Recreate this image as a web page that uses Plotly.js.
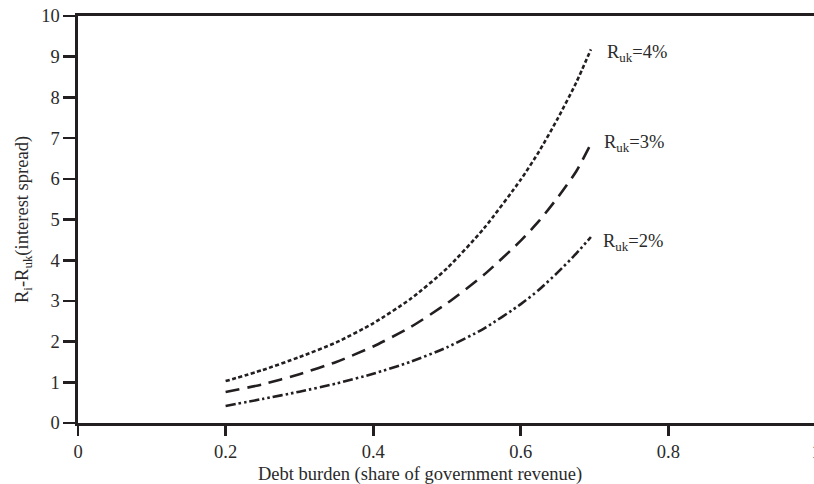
<!DOCTYPE html>
<html>
<head>
<meta charset="utf-8">
<script src="https://cdn.plot.ly/plotly-3.0.1.min.js"></script>
<style>
html, body { margin: 0; padding: 0; overflow: hidden; background: #fff; }
#chart { width: 816px; height: 484px; }
</style>
</head>
<body>
<div id="chart"></div>
<script>
// Debt burden (share of government revenue)
var debtBurden = [0.2, 0.25, 0.3, 0.35, 0.4, 0.45, 0.5, 0.55, 0.6, 0.625, 0.65, 0.675, 0.695];
// Interest spread for each UK rate
var spread4 = [1.03, 1.30, 1.62, 1.98, 2.45, 3.04, 3.80, 4.78, 5.98, 6.68, 7.48, 8.36, 9.18];
var spread3 = [0.76, 0.95, 1.20, 1.50, 1.88, 2.35, 2.94, 3.64, 4.48, 4.97, 5.54, 6.18, 6.86];
var spread2 = [0.42, 0.59, 0.77, 0.97, 1.21, 1.50, 1.86, 2.32, 2.92, 3.28, 3.70, 4.16, 4.57];
var seriesLabels = ['R<sub>uk</sub>=4%', 'R<sub>uk</sub>=3%', 'R<sub>uk</sub>=2%'];
var xTickVals = [0, 0.2, 0.4, 0.6, 0.8, 1];
var xTickText = ['0', '0.2', '0.4', '0.6', '0.8', '1'];
var yTickVals = [0, 1, 2, 3, 4, 5, 6, 7, 8, 9, 10];

var ink = '#231f20';
var textCol = '#2a2a2a';
var serif = 'Liberation Serif, Times New Roman, serif';
var fs = 18.5;

var allSeries = [spread4, spread3, spread2];
var dashes = ['4px,2.5px', '14px,8px', '10px,3px,2.5px,3px,2.5px,3px'];
var labelXShift = [14, 11, 10];
var labelYShift = [-4, 0, -5];

var traces = allSeries.map(function (ys, i) {
  return {
    x: debtBurden, y: ys, type: 'scatter', mode: 'lines',
    line: { color: ink, width: 2.6, dash: dashes[i], shape: 'spline', smoothing: 0.6 },
    hoverinfo: 'skip', showlegend: false
  };
});

var annotations = allSeries.map(function (ys, i) {
  return {
    x: debtBurden[debtBurden.length - 1], y: ys[ys.length - 1],
    xref: 'x', yref: 'y', text: seriesLabels[i], showarrow: false,
    xanchor: 'left', yanchor: 'middle', xshift: labelXShift[i], yshift: labelYShift[i],
    font: { family: serif, size: fs, color: textCol }
  };
});

var layout = {
  width: 816, height: 484,
  margin: { l: 78, r: 0, t: 16, b: 61 },
  paper_bgcolor: '#ffffff', plot_bgcolor: '#ffffff',
  font: { family: serif, size: fs, color: textCol },
  showlegend: false,
  xaxis: {
    range: [0, 1], tickvals: xTickVals, ticktext: xTickText,
    showgrid: false, zeroline: false, ticklabeloverflow: 'allow',
    showline: true, linecolor: ink, linewidth: 2.6, mirror: true,
    ticks: 'outside', ticklen: 10, tickwidth: 2.6, tickcolor: ink,
    tickfont: { family: serif, size: fs, color: textCol }
  },
  yaxis: {
    range: [0, 10], tickvals: yTickVals,
    showgrid: false, zeroline: false,
    showline: true, linecolor: ink, linewidth: 2.6,
    ticks: 'outside', ticklen: 12, tickwidth: 2.6, tickcolor: ink,
    tickfont: { family: serif, size: fs, color: textCol },
    title: { text: 'R<sub>i</sub>-R<sub>uk</sub>(interest spread)', standoff: 8,
             font: { family: serif, size: fs, color: textCol } }
  },
  annotations: annotations
};

// x-axis title placed as an annotation centred where the reference has it
var plotW = layout.width - layout.margin.l - layout.margin.r;
var plotH = layout.height - layout.margin.t - layout.margin.b;
annotations.push({
  x: (420 - layout.margin.l) / plotW,
  y: -(474 - (layout.height - layout.margin.b)) / plotH,
  xref: 'paper', yref: 'paper', xanchor: 'center', yanchor: 'middle',
  text: 'Debt burden (share of government revenue)', showarrow: false,
  font: { family: serif, size: fs, color: textCol }
});

Plotly.newPlot('chart', traces, layout, { displayModeBar: false, staticPlot: true });
</script>
</body>
</html>
